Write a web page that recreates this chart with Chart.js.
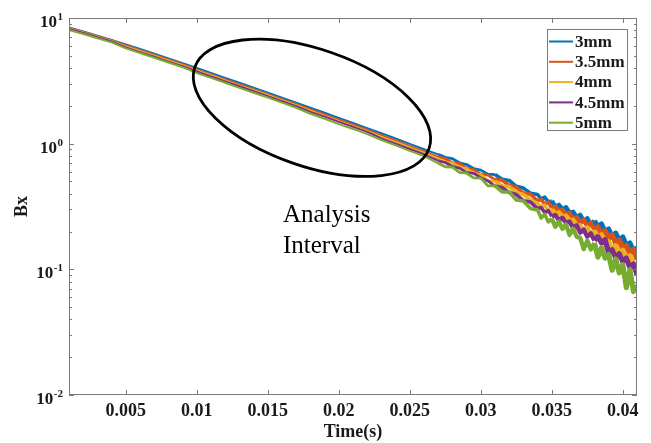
<!DOCTYPE html>
<html>
<head>
<meta charset="utf-8">
<title>Bx decay</title>
<script src="https://cdn.jsdelivr.net/npm/chart.js@4.4.1/dist/chart.umd.min.js"></script>
<style>
    html, body { margin: 0; padding: 0; background: #fff; }
    #wrap { width: 651px; height: 443px; }
</style>
</head>
<body>
<div id="wrap"><canvas id="bx-chart" width="651" height="443"></canvas></div>
<script>
////////////////////////////////////////////////////////////////////////////////////////////
// Data
////////////////////////////////////////////////////////////////////////////////////////////

const timeS = [
    0.001, 0.002, 0.003, 0.004, 0.005, 0.006, 0.007, 0.008, 0.009, 0.010,
    0.011, 0.012, 0.013, 0.014, 0.015, 0.016, 0.017, 0.018, 0.019, 0.020,
    0.021, 0.022, 0.023, 0.024, 0.025, 0.026, 0.027,
    0.0275, 0.028, 0.0285, 0.029, 0.0295, 0.030, 0.0305, 0.031, 0.0315, 0.032,
    0.0325, 0.033, 0.0335, 0.034,
    0.03425, 0.0345, 0.03475, 0.035, 0.03525, 0.0355, 0.03575, 0.036, 0.03625, 0.0365,
    0.03675, 0.037, 0.03725, 0.0375, 0.03775, 0.038, 0.03825, 0.0385, 0.03875, 0.039,
    0.03925, 0.0395, 0.03975, 0.040, 0.04025, 0.0405, 0.04075, 0.041
];

const bx3mm = [
    8.41, 7.82, 7.24, 6.70, 6.17, 5.66, 5.20, 4.76, 4.37, 4.00,
    3.66, 3.34, 3.05, 2.79, 2.55, 2.32, 2.12, 1.93, 1.76, 1.60,
    1.46, 1.33, 1.21, 1.10, 0.995, 0.902, 0.822,
    0.778, 0.760, 0.705, 0.682, 0.634, 0.616, 0.572, 0.568, 0.521, 0.510,
    0.458, 0.443, 0.403, 0.394,
    0.362, 0.375, 0.344, 0.350, 0.315, 0.326, 0.300, 0.312, 0.282, 0.287,
    0.260, 0.271, 0.242, 0.255, 0.226, 0.244, 0.217, 0.229, 0.199, 0.209,
    0.182, 0.194, 0.169, 0.181, 0.154, 0.162, 0.139, 0.149
];

const bx35mm = [
    8.33, 7.75, 7.17, 6.64, 6.06, 5.56, 5.11, 4.67, 4.29, 3.89,
    3.56, 3.25, 2.97, 2.71, 2.48, 2.26, 2.06, 1.88, 1.71, 1.56,
    1.42, 1.29, 1.17, 1.06, 0.959, 0.870, 0.785,
    0.759, 0.706, 0.693, 0.639, 0.622, 0.572, 0.562, 0.518, 0.512, 0.466,
    0.450, 0.404, 0.396, 0.350,
    0.361, 0.329, 0.342, 0.307, 0.316, 0.286, 0.299, 0.273, 0.282, 0.252,
    0.260, 0.232, 0.248, 0.219, 0.235, 0.207, 0.218, 0.190, 0.203, 0.175,
    0.188, 0.161, 0.171, 0.145, 0.155, 0.133, 0.144, 0.120
];

const bx4mm = [
    8.26, 7.68, 7.11, 6.58, 5.95, 5.46, 5.01, 4.59, 4.21, 3.82,
    3.50, 3.19, 2.91, 2.66, 2.44, 2.22, 2.02, 1.83, 1.66, 1.51,
    1.38, 1.26, 1.13, 1.03, 0.933, 0.846, 0.758,
    0.714, 0.701, 0.651, 0.633, 0.581, 0.568, 0.507, 0.503, 0.463, 0.455,
    0.408, 0.394, 0.356, 0.336,
    0.313, 0.324, 0.293, 0.301, 0.273, 0.284, 0.260, 0.268, 0.241, 0.248,
    0.223, 0.224, 0.201, 0.216, 0.191, 0.203, 0.176, 0.188, 0.166, 0.166,
    0.143, 0.154, 0.134, 0.142, 0.121, 0.128, 0.110, 0.112
];

const bx45mm = [
    8.18, 7.61, 7.04, 6.52, 5.84, 5.35, 4.92, 4.50, 4.13, 3.75,
    3.43, 3.13, 2.86, 2.62, 2.39, 2.18, 1.99, 1.79, 1.64, 1.49,
    1.36, 1.24, 1.10, 1.00, 0.907, 0.823, 0.731,
    0.708, 0.659, 0.639, 0.591, 0.581, 0.535, 0.505, 0.460, 0.447, 0.408,
    0.394, 0.352, 0.343, 0.304,
    0.310, 0.283, 0.293, 0.264, 0.271, 0.245, 0.257, 0.234, 0.240, 0.214,
    0.224, 0.196, 0.207, 0.182, 0.193, 0.170, 0.182, 0.162, 0.172, 0.136,
    0.143, 0.123, 0.133, 0.115, 0.123, 0.103, 0.110, 0.0913
];

const bx5mm = [
    8.03, 7.47, 6.91, 6.40, 5.73, 5.26, 4.83, 4.42, 4.06, 3.65,
    3.34, 3.05, 2.78, 2.54, 2.33, 2.12, 1.93, 1.73, 1.58, 1.43,
    1.31, 1.19, 1.07, 0.969, 0.877, 0.795, 0.698,
    0.655, 0.651, 0.590, 0.582, 0.534, 0.532, 0.461, 0.461, 0.413, 0.413,
    0.356, 0.350, 0.305, 0.296,
    0.256, 0.274, 0.239, 0.253, 0.218, 0.240, 0.210, 0.227, 0.188, 0.211,
    0.182, 0.178, 0.145, 0.169, 0.144, 0.162, 0.125, 0.149, 0.123, 0.131,
    0.0986, 0.121, 0.0939, 0.109, 0.0715, 0.0994, 0.0665, 0.0747
];

const seriesLabels = ['3mm', '3.5mm', '4mm', '4.5mm', '5mm'];
const seriesValues = [bx3mm, bx35mm, bx4mm, bx45mm, bx5mm];
const seriesColors = ['#0072BD', '#D95319', '#EDB120', '#7E2F8E', '#77AC30'];

const xTickValues = [0.005, 0.01, 0.015, 0.02, 0.025, 0.03, 0.035, 0.04];
const yTickValues = [0.01, 0.1, 1, 10];
const yTickExponents = ['-2', '-1', '0', '1'];

// ellipse round the analysis interval: centre in data units
const intervalCentre = { x: 0.01811, y: 1.93 };
const noteAnchor = { x: 0.01607, y: 0.240 };
const noteLines = ['Analysis', 'Interval'];

////////////////////////////////////////////////////////////////////////////////////////////
// Styling helpers
////////////////////////////////////////////////////////////////////////////////////////////

const SERIF = "'Liberation Serif', 'Times New Roman', serif";
const AXIS_GRAY = '#7a7a7a';
const TEXT_COLOR = '#1a1a1a';

// the noisy tail reads as a thick band, so the stroke widens with time
function strokeWidthAt(t) {
    if (t < 0.0265) return 2;
    if (t < 0.031) return 2.8;
    if (t < 0.035) return 3.6;
    if (t < 0.038) return 4.4;
    return 5.2;
}

/**
 * Plugin: matlabFrame
 * Purpose:
 *      Box round the plot, inward ticks, 10^n labels, legend box,
 *      the ellipse and the note text.
 */
const matlabFrame = {
    id: 'matlabFrame',
    afterDraw(chart) {
        const { ctx, chartArea: a, scales: { x, y } } = chart;
        ctx.save();

        // axes box
        ctx.strokeStyle = AXIS_GRAY;
        ctx.lineWidth = 1;
        ctx.strokeRect(a.left + 0.5, a.top + 0.5, a.right - a.left - 1, a.bottom - a.top - 1);

        // x ticks (bottom and top, pointing in)
        ctx.beginPath();
        xTickValues.forEach(v => {
            const px = Math.round(x.getPixelForValue(v)) + 0.5;
            ctx.moveTo(px, a.bottom);
            ctx.lineTo(px, a.bottom - 5);
            ctx.moveTo(px, a.top);
            ctx.lineTo(px, a.top + 5);
        });

        // y ticks: decades long, 2..9 short
        for (let e = -2; e <= 0; e++) {
            for (let k = 1; k <= 9; k++) {
                const py = Math.round(y.getPixelForValue(k * Math.pow(10, e))) + 0.5;
                const len = k === 1 ? 5 : 3;
                ctx.moveTo(a.left, py);
                ctx.lineTo(a.left + len, py);
                ctx.moveTo(a.right, py);
                ctx.lineTo(a.right - len, py);
            }
        }
        const topPy = Math.round(y.getPixelForValue(10)) + 0.5;
        ctx.moveTo(a.left, topPy); ctx.lineTo(a.left + 5, topPy);
        ctx.moveTo(a.right, topPy); ctx.lineTo(a.right - 5, topPy);
        ctx.stroke();

        // y tick labels as 10 with a raised exponent
        ctx.fillStyle = TEXT_COLOR;
        ctx.textBaseline = 'alphabetic';
        ctx.textAlign = 'left';
        const labelRight = a.left - 6;
        yTickValues.forEach((v, i) => {
            const py = y.getPixelForValue(v);
            ctx.font = `bold 11px ${SERIF}`;
            const expW = ctx.measureText(yTickExponents[i]).width;
            ctx.fillText(yTickExponents[i], labelRight - expW, py + 2);
            ctx.font = `bold 17px ${SERIF}`;
            const baseW = ctx.measureText('10').width;
            ctx.fillText('10', labelRight - expW - 0.5 - baseW, py + 9);
        });

        // legend box, top right inside the axes
        const lw = 80, lh = 101;
        const lx = a.right - 10 - lw, ly = a.top + 11;
        ctx.fillStyle = '#fff';
        ctx.fillRect(lx, ly, lw, lh);
        ctx.strokeStyle = AXIS_GRAY;
        ctx.lineWidth = 1;
        ctx.strokeRect(lx + 0.5, ly + 0.5, lw, lh);
        ctx.font = `bold 17px ${SERIF}`;
        ctx.textBaseline = 'middle';
        chart.data.datasets.forEach((ds, i) => {
            const ry = ly + 12.5 + i * 20.3;
            ctx.strokeStyle = ds.borderColor;
            ctx.lineWidth = 2;
            ctx.beginPath();
            ctx.moveTo(lx + 2, ry);
            ctx.lineTo(lx + 26, ry);
            ctx.stroke();
            ctx.fillStyle = TEXT_COLOR;
            ctx.fillText(ds.label, lx + 28, ry + 1);
        });

        // ellipse round the analysis interval
        const cx = x.getPixelForValue(intervalCentre.x);
        const cy = y.getPixelForValue(intervalCentre.y);
        ctx.strokeStyle = '#000';
        ctx.lineWidth = 2.8;
        ctx.beginPath();
        ctx.ellipse(cx, cy, 124, 58.5, 19.1 * Math.PI / 180, 0, Math.PI * 2);
        ctx.stroke();

        // note text
        const tx = x.getPixelForValue(noteAnchor.x);
        const ty = y.getPixelForValue(noteAnchor.y);
        ctx.fillStyle = '#000';
        ctx.font = `25px ${SERIF}`;
        ctx.textBaseline = 'alphabetic';
        noteLines.forEach((line, i) => ctx.fillText(line, tx, ty + i * 31));

        ctx.restore();
    }
};

////////////////////////////////////////////////////////////////////////////////////////////
// Chart.JS
////////////////////////////////////////////////////////////////////////////////////////////

const ctx = document.getElementById('bx-chart').getContext('2d');

const datasets = seriesLabels.map((label, i) => ({
    label: label,
    data: timeS.map((t, j) => ({ x: t, y: seriesValues[i][j] })),
    borderColor: seriesColors[i],
    backgroundColor: seriesColors[i],
    borderWidth: 2,
    pointRadius: 0,
    tension: 0,
    fill: false,
    borderJoinStyle: 'round',
    segment: {
        borderWidth: c => strokeWidthAt(c.p0.parsed.x)
    },
    order: seriesLabels.length - i // last series drawn on top, as in MATLAB
}));

let bxChart = new Chart(ctx, {
    type: 'line',
    data: { datasets: datasets },
    options: {
        responsive: false,
        animation: false,
        devicePixelRatio: 1,
        layout: { padding: { left: 0, right: 14, top: 18, bottom: 0 } },
        plugins: {
            legend: { display: false },
            tooltip: { enabled: false }
        },
        scales: {
            x: {
                type: 'linear',
                min: 0.001,
                max: 0.041,
                afterBuildTicks: scale => { scale.ticks = xTickValues.map(v => ({ value: v })); },
                afterFit: scale => { scale.height = 48; },
                grid: { display: false, drawTicks: false },
                border: { display: false },
                ticks: {
                    autoSkip: false,
                    maxRotation: 0,
                    padding: 6,
                    color: TEXT_COLOR,
                    font: { family: SERIF, size: 18, weight: 'bold' },
                    callback: v => String(v)
                },
                title: {
                    display: true,
                    text: 'Time(s)',
                    color: TEXT_COLOR,
                    font: { family: SERIF, size: 18, weight: 'bold' },
                    padding: { top: 0, bottom: 0 }
                }
            },
            y: {
                type: 'logarithmic',
                min: 0.01,
                max: 10,
                afterBuildTicks: scale => { scale.ticks = yTickValues.map(v => ({ value: v })); },
                afterFit: scale => { scale.width = 69; },
                grid: { display: false, drawTicks: false },
                border: { display: false },
                ticks: { display: false },
                title: {
                    display: true,
                    text: 'Bx',
                    color: TEXT_COLOR,
                    font: { family: SERIF, size: 18, weight: 'bold' },
                    padding: { top: 12, bottom: 0 }
                }
            }
        }
    },
    plugins: [matlabFrame]
});
</script>
</body>
</html>
